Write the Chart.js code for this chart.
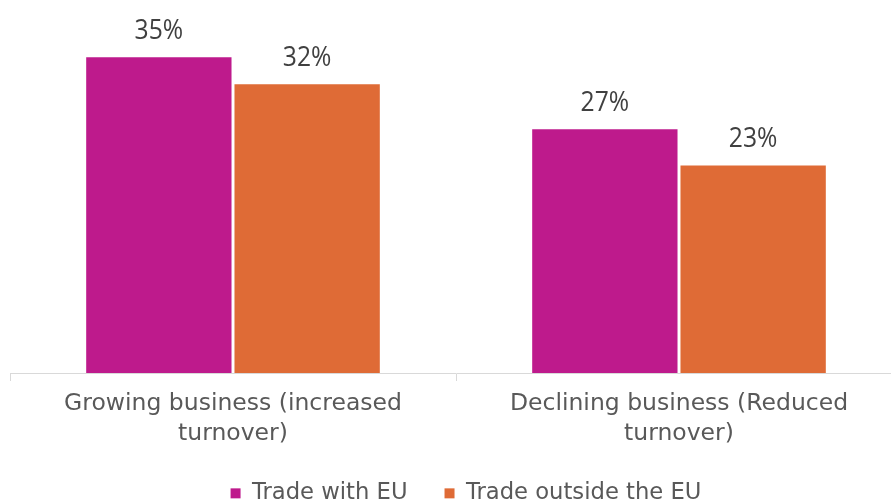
<!DOCTYPE html>
<html>
<head>
<meta charset="utf-8">
<script src="https://cdn.jsdelivr.net/npm/chart.js@4/dist/chart.umd.min.js"></script>
<style>
  html, body { margin: 0; padding: 0; background: #ffffff; overflow: hidden; }
  #wrap { width: 902px; height: 502px; }
</style>
</head>
<body>
<div id="wrap"><canvas id="c"></canvas></div>
<script>
// Share of businesses trading with / outside the EU, by business trend (%)
const categories = [
  ["Growing business (increased", "turnover)"],
  ["Declining business (Reduced", "turnover)"]
];
const tradeWithEU = [35, 27];
const tradeOutsideEU = [32, 23];
const seriesNames = ["Trade with EU", "Trade outside the EU"];

const labelFont = "'DejaVu Sans', Verdana, sans-serif";

// Writes each bar's value above it, in a slightly narrowed face
const valueLabels = {
  id: 'valueLabels',
  afterDatasetsDraw(chart) {
    const ctx = chart.ctx;
    chart.data.datasets.forEach((ds, i) => {
      chart.getDatasetMeta(i).data.forEach((bar, j) => {
        ctx.save();
        ctx.translate(bar.x, bar.y - 18);
        ctx.scale(0.88, 1);
        ctx.font = "28px 'Open Sans', sans-serif";
        ctx.fillStyle = '#404040';
        ctx.textAlign = 'center';
        ctx.textBaseline = 'alphabetic';
        ctx.fillText(ds.data[j] + '%', 0, 0);
        ctx.restore();
      });
    });
  }
};

// Nudges the legend row to the right of the canvas centre
const legendShift = {
  id: 'legendShift',
  afterLayout(chart) {
    if (chart.legend) {
      chart.legend.left += 10;
      chart.legend.right += 10;
    }
  }
};

new Chart(document.getElementById('c'), {
  type: 'bar',
  data: {
    labels: categories,
    datasets: [
      { label: seriesNames[0], data: tradeWithEU, backgroundColor: '#BE1A8C', borderWidth: 0 },
      { label: seriesNames[1], data: tradeOutsideEU, backgroundColor: '#DF6B36', borderWidth: 0 }
    ]
  },
  options: {
    responsive: true,
    maintainAspectRatio: false,
    animation: false,
    layout: { padding: { left: 10, right: 0, top: 12, bottom: 0 } },
    datasets: { bar: { categoryPercentage: 0.665, barPercentage: 0.98 } },
    plugins: {
      legend: {
        position: 'bottom',
        maxHeight: 57,
        labels: {
          font: { family: labelFont, size: 22.7 },
          color: '#595959',
          usePointStyle: true,
          pointStyle: 'rect',
          boxWidth: 10,
          boxHeight: 10,
          padding: 37
        }
      },
      tooltip: { enabled: false }
    },
    scales: {
      x: {
        afterFit(scale) { scale.height = 72; },
        grid: {
          offset: true,
          drawOnChartArea: false,
          drawTicks: true,
          tickLength: 8,
          color: '#D9D9D9'
        },
        border: { color: '#D9D9D9', width: 1 },
        ticks: {
          font: { family: labelFont, size: 23.5, lineHeight: 1.277 },
          color: '#595959',
          padding: 8,
          maxRotation: 0
        }
      },
      y: {
        display: false,
        min: 0,
        max: 40
      }
    }
  },
  plugins: [valueLabels, legendShift]
});
</script>
</body>
</html>
